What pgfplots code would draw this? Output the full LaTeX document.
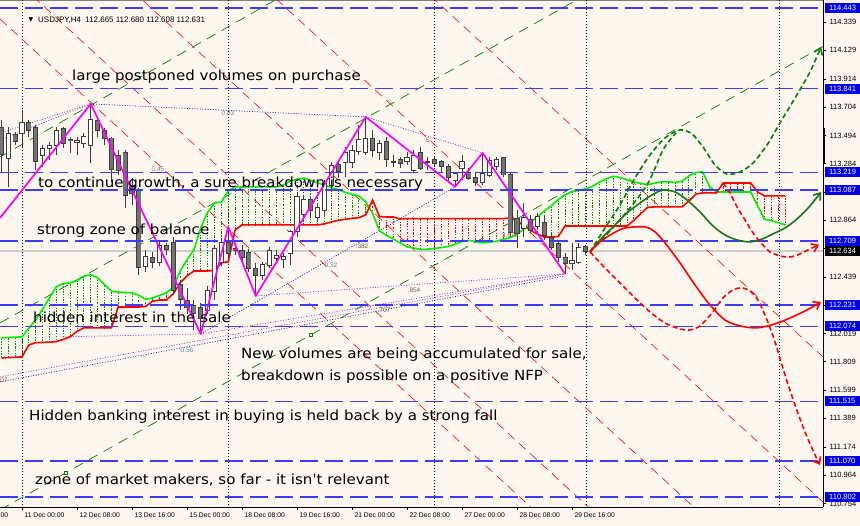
\documentclass[border=0pt]{standalone}
\usepackage{pgfplots}
\pgfplotsset{compat=1.18}
\usepackage{pgfplotstable}
\usetikzlibrary{arrows.meta}
\usepackage{fontspec}
\setmainfont{Liberation Sans}
\newfontfamily\annot[FakeStretch=1.08]{DejaVu Sans}
\newfontfamily\dejavu{DejaVu Sans}

\definecolor{bgc}{RGB}{253,247,240}
\definecolor{lvl}{RGB}{60,60,255}
\definecolor{boxb}{RGB}{0,0,235}
\definecolor{cgreen}{RGB}{0,240,0}
\definecolor{cred}{RGB}{255,0,0}
\definecolor{hatchg}{RGB}{0,140,0}
\definecolor{dgreen}{RGB}{0,128,0}
\definecolor{fgreen}{RGB}{25,120,25}
\definecolor{magz}{RGB}{255,0,255}
\definecolor{purp}{RGB}{153,50,204}
\definecolor{navyd}{RGB}{30,30,170}
\definecolor{candle}{RGB}{60,60,60}
\definecolor{bearf}{RGB}{115,115,115}
\definecolor{fibb}{RGB}{100,130,175}
\definecolor{fibd}{RGB}{110,95,70}
\definecolor{bidl}{RGB}{205,205,205}

\pgfplotstableread{
x o h l c
8.25 113.327 113.557 113.111 113.513
22 113.513 113.684 113.401 113.595
42.625 113.349 113.423 113.260 113.401
49.5 113.401 113.446 113.312 113.423
56.375 113.423 113.557 113.349 113.535
77 113.446 113.483 113.349 113.461
83.875 113.438 113.513 113.401 113.483
90.75 113.423 113.729 113.289 113.610
145.75 112.515 112.642 112.478 112.589
159.5 112.552 112.716 112.522 112.679
207.625 112.195 112.373 112.165 112.344
214.5 112.329 112.679 112.269 112.656
221.375 112.545 112.731 112.522 112.694
262.625 112.455 112.552 112.418 112.530
269.5 112.530 112.664 112.507 112.642
276.375 112.582 112.642 112.552 112.604
283.25 112.567 112.619 112.507 112.589
290.125 112.619 112.790 112.530 112.776
297 112.776 113.073 112.738 113.036
303.875 112.902 113.051 112.865 113.014
317.625 112.880 112.977 112.850 112.954
324.5 112.939 113.163 112.902 113.140
331.375 113.126 113.297 113.073 113.274
345.125 113.297 113.408 113.185 113.371
352 113.297 113.423 113.252 113.386
358.875 113.371 113.572 113.349 113.461
365.75 113.371 113.632 113.349 113.475
379.5 113.371 113.461 113.312 113.438
407 113.297 113.371 113.274 113.334
413.875 113.237 113.386 113.222 113.349
455.125 113.163 113.222 113.111 113.215
462 113.252 113.349 113.163 113.297
482.625 113.148 113.364 113.126 113.215
489.5 113.200 113.334 113.185 113.312
496.375 113.260 113.334 113.237 113.312
523.875 112.805 112.991 112.738 112.880
537.625 112.813 112.917 112.790 112.887
572 112.545 112.694 112.493 112.567
578.875 112.552 112.694 112.537 112.664
}\bull

\pgfplotstableread{
x o h l c
1.375 113.550 113.610 113.215 113.349
15.125 113.498 113.520 113.423 113.446
28.875 113.595 113.610 113.483 113.535
35.75 113.550 113.572 113.237 113.297
63.25 113.550 113.557 113.401 113.438
70.125 113.461 113.483 113.364 113.453
97.625 113.610 113.624 113.483 113.535
104.5 113.535 113.550 113.423 113.475
111.375 113.475 113.483 113.148 113.237
118.25 113.349 113.386 113.200 113.237
125.125 113.371 113.386 112.954 113.051
132 113.126 113.178 112.977 113.066
138.875 113.088 113.103 112.455 112.515
152.625 112.589 112.627 112.507 112.552
166.375 112.679 112.694 112.604 112.649
173.25 112.701 112.738 112.306 112.344
180.125 112.381 112.418 112.195 112.269
187 112.269 112.359 112.165 112.210
193.875 112.232 112.269 112.046 112.172
200.75 112.217 112.247 112.016 112.135
228.25 112.694 112.813 112.582 112.619
235.125 112.656 112.694 112.604 112.642
242 112.642 112.679 112.552 112.589
248.875 112.627 112.649 112.478 112.507
255.75 112.507 112.545 112.299 112.455
310.75 113.014 113.036 112.880 112.939
338.25 113.274 113.312 113.178 113.222
372.625 113.475 113.535 113.334 113.386
386.375 113.446 113.483 113.260 113.312
393.25 113.304 113.349 113.260 113.297
400.125 113.312 113.334 113.252 113.289
420.75 113.371 113.408 113.237 113.252
427.625 113.304 113.334 113.237 113.297
434.5 113.312 113.334 113.260 113.289
441.375 113.297 113.312 113.222 113.260
448.25 113.260 113.282 113.140 113.178
468.875 113.222 113.252 113.163 113.178
475.75 113.185 113.215 113.118 113.148
503.25 113.327 113.334 113.185 113.200
510.125 113.200 113.215 112.738 112.768
517 112.880 112.939 112.656 112.768
530.75 112.865 112.902 112.768 112.790
544.5 112.850 112.902 112.716 112.753
551.375 112.738 112.768 112.642 112.664
558.25 112.694 112.716 112.552 112.589
565.125 112.589 112.619 112.463 112.545
585.75 112.665 112.680 112.608 112.631
}\bear

% Ichimoku cloud, one row per bar: a = Senkou Span A (green), b = Senkou Span B (red)
\pgfplotstableread{
x a b
1.375 111.987 111.837
8.25 111.989 111.840
15.125 111.992 111.842
22 111.994 111.845
28.875 112.058 111.934
35.75 112.122 111.951
42.625 112.200 111.953
49.5 112.284 111.955
56.375 112.368 111.958
63.25 112.392 111.976
70.125 112.396 111.994
77 112.411 112.036
83.875 112.447 112.061
90.75 112.457 112.061
97.625 112.434 112.061
104.5 112.385 112.061
111.375 112.334 112.061
118.25 112.327 112.217
125.125 112.325 112.217
132 112.322 112.217
138.875 112.304 112.217
145.75 112.274 112.221
152.625 112.284 112.260
159.5 112.303 112.269
166.375 112.323 112.269
173.25 112.363 112.315
180.125 112.483 112.397
187 112.568 112.448
193.875 112.642 112.485
200.75 112.805 112.485
207.625 112.921 112.485
214.5 112.992 112.490
221.375 112.998 112.545
228.25 113.080 112.554
235.125 113.111 112.790
242 113.111 112.828
248.875 113.111 112.828
255.75 113.111 112.828
262.625 113.111 112.828
269.5 113.111 112.828
276.375 113.111 112.828
283.25 113.124 112.828
290.125 113.152 112.828
297 113.169 112.828
303.875 113.176 112.828
310.75 113.159 112.828
317.625 113.141 112.828
324.5 113.124 112.836
331.375 113.107 112.849
338.25 113.089 112.862
345.125 113.071 112.870
352 113.056 112.876
358.875 113.042 112.882
365.75 113.001 112.902
372.625 112.913 113.013
379.5 112.785 112.890
386.375 112.750 112.887
393.25 112.723 112.887
400.125 112.694 112.872
407 112.664 112.875
413.875 112.655 112.875
420.75 112.645 112.875
427.625 112.646 112.875
434.5 112.653 112.875
441.375 112.659 112.875
448.25 112.667 112.875
455.125 112.685 112.875
462 112.703 112.875
468.875 112.713 112.875
475.75 112.704 112.875
482.625 112.694 112.875
489.5 112.699 112.875
496.375 112.707 112.875
503.25 112.720 112.875
510.125 112.733 112.879
517 112.759 112.859
523.875 112.797 112.823
530.75 112.848 112.788
537.625 112.892 112.758
544.5 112.932 112.738
551.375 112.971 112.738
558.25 113.017 112.741
565.125 113.052 112.820
572 113.076 112.820
578.875 113.086 112.820
585.75 113.097 112.820
592.625 113.115 112.820
599.5 113.146 112.820
606.375 113.171 112.820
613.25 113.190 112.820
620.125 113.181 112.820
627 113.164 112.820
633.875 113.147 112.862
640.75 113.137 112.911
647.625 113.127 112.959
654.5 113.138 112.962
661.375 113.148 112.962
668.25 113.148 112.962
675.125 113.144 112.962
682 113.152 112.962
688.875 113.193 113.006
695.75 113.217 113.057
702.625 113.223 113.066
709.5 113.115 113.066
716.375 113.073 113.066
723.25 113.073 113.140
730.125 113.073 113.140
737 113.073 113.140
743.875 113.073 113.140
750.75 113.073 113.140
757.625 112.970 113.073
764.5 112.870 113.044
771.375 112.859 113.044
778.25 112.844 113.044
785.125 112.828 113.044
}\cloud

\newcommand\ann[3]{\node[anchor=base west, inner sep=0pt, font=\annot\fontsize{14}{16}\selectfont] at (axis cs:#1,#2) {#3};}
\newcommand\fib[4]{\node[inner sep=0pt, text=#4, font=\fontsize{6.5}{7}\selectfont] at (axis cs:#1,#2) {#3};}
\pgfplotsset{errbar/.style={forget plot, draw=none, mark=none, error bars/.cd, y dir=both, y explicit, error mark=none, error bar style={#1}}}

\begin{document}
\begin{tikzpicture}
\fill[bgc] (0,0) rectangle (860bp,526bp);
\begin{axis}[
  at={(0,19bp)}, anchor=south west,
  scale only axis, width=823bp, height=507bp,
  xmin=0, xmax=823, ymin=110.7275, ymax=114.5026,
  axis x line*=bottom, axis y line*=right,
  axis line style={black, line width=0.8bp},
  clip mode=individual,
  xtick={22,77,132,187,242,297,352,407,462,517,572},
  xticklabels={11 Dec 00:00,12 Dec 08:00,13 Dec 16:00,15 Dec 00:00,18 Dec 08:00,19 Dec 16:00,21 Dec 00:00,22 Dec 08:00,27 Dec 00:00,28 Dec 08:00,29 Dec 16:00},
  xticklabel style={anchor=north west, xshift=-1bp, yshift=1bp, font=\fontsize{6.8}{8}\selectfont},
  ytick={110.754,110.964,111.174,111.389,111.599,111.809,112.019,112.439,112.864,113.284,113.494,113.704,113.914,114.129,114.339},
  yticklabel={\pgfmathprintnumber[fixed,fixed zerofill,precision=3,1000 sep={},assume math mode=true]{\tick}},
  yticklabel style={font=\fontsize{7.6}{9}\selectfont},
  extra y ticks={113.074,112.654,112.229},
  extra y tick labels={},
  tick align=outside, major tick length=3bp,
  tick style={black, line width=0.6bp},
  /pgf/number format/assume math mode=true,
]
% top frame
\addplot[forget plot, gray, line width=1.6bp] coordinates {(0,114.5026) (823,114.5026)};
% period separators
\pgfplotsinvokeforeach{22,228,434,586,779}{
  \addplot[forget plot, black, line width=0.8bp, dash pattern=on 1bp off 2bp] coordinates {(#1,110.7) (#1,114.6)};
}
% bid line
\addplot[forget plot, bidl, line width=1.2bp] coordinates {(0,112.634) (823,112.634)};
% red descending channel lines
\addplot[forget plot, cred, line width=0.6bp, dash pattern=on 9bp off 6bp] coordinates {(0,114.362) (823,108.725)};
\addplot[forget plot, cred, line width=0.6bp, dash pattern=on 9bp off 6bp] coordinates {(0,114.756) (823,109.120)};
\addplot[forget plot, cred, line width=0.6bp, dash pattern=on 9bp off 6bp] coordinates {(0,115.478) (823,109.842)};
\addplot[forget plot, cred, line width=0.6bp, dash pattern=on 9bp off 6bp] coordinates {(0,116.402) (823,110.765)};
\addplot[forget plot, cred, line width=0.6bp, dash pattern=on 9bp off 6bp] coordinates {(0,117.481) (823,111.845)};
% green ascending channel
\addplot[forget plot, dgreen, line width=0.7bp, dash pattern=on 10bp off 7bp] coordinates {(0,113.334) (400,115.032)};
\addplot[forget plot, dgreen, line width=0.7bp, dash pattern=on 10bp off 7bp] coordinates {(0,112.098) (823,115.530)};
\addplot[forget plot, dgreen, line width=0.7bp, dash pattern=on 10bp off 7bp] coordinates {(0,110.706) (823,114.157)};
\addplot[forget plot, only marks, dgreen, mark=square*, mark size=1.6bp, mark options={fill=white, solid}] coordinates {(66,110.983) (310.5,112.008)};
% fan / fibo dotted lines
\addplot[forget plot, purp, line width=0.7bp, dash pattern=on 1bp off 1.6bp] coordinates {(0,113.513) (90.75,113.729)};
\addplot[forget plot, purp, line width=0.7bp, dash pattern=on 1bp off 1.6bp] coordinates {(0,113.461) (90.75,113.729)};
\addplot[forget plot, navyd, line width=0.7bp, dash pattern=on 1bp off 1.6bp] coordinates {(90.75,113.729) (365.75,113.632)};
\addplot[forget plot, purp, line width=0.7bp, dash pattern=on 1bp off 1.6bp] coordinates {(365.75,113.632) (482.625,113.364)};
\addplot[forget plot, purp, line width=0.7bp, dash pattern=on 1bp off 1.6bp] coordinates {(0,111.696) (565,112.463)};
\addplot[forget plot, navyd, line width=0.7bp, dash pattern=on 1bp off 1.6bp] coordinates {(0,111.659) (565,112.448)};
\addplot[forget plot, purp, line width=0.7bp, dash pattern=on 1bp off 1.6bp] coordinates {(60,111.994) (200.75,112.016)};
\addplot[forget plot, purp, line width=0.7bp, dash pattern=on 1bp off 1.6bp] coordinates {(200.75,112.016) (565,112.463)};
\addplot[forget plot, purp, line width=0.7bp, dash pattern=on 1bp off 1.6bp] coordinates {(255.75,112.299) (565,112.463)};
\addplot[forget plot, navyd, line width=0.7bp, dash pattern=on 1bp off 1.6bp] coordinates {(200.75,112.016) (455.125,113.111)};
% ichimoku cloud hatching (one dotted stroke per bar)
\addplot[errbar={draw=hatchg, line width=0.8bp, dash pattern=on 1.3bp off 1.4bp}]
  table[x=x, y expr={(\thisrow{a}+\thisrow{b})/2}, y error expr={max(\thisrow{a}-\thisrow{b},0)/2}] {\cloud};
\addplot[errbar={draw=cred, line width=0.8bp, dash pattern=on 1.3bp off 1.4bp}]
  table[x=x, y expr={(\thisrow{a}+\thisrow{b})/2}, y error expr={max(\thisrow{b}-\thisrow{a},0)/2}] {\cloud};
\addplot[forget plot, cgreen, line width=1.6bp] table[x=x,y=a] {\cloud};
\addplot[forget plot, cred, line width=1.6bp] table[x=x,y=b] {\cloud};
% candles: wicks
\addplot[errbar={draw=candle, solid, line width=0.9bp}]
  table[x=x, y expr={(\thisrow{h}+\thisrow{l})/2}, y error expr={(\thisrow{h}-\thisrow{l})/2}] {\bull};
\addplot[errbar={draw=candle, solid, line width=0.9bp}]
  table[x=x, y expr={(\thisrow{h}+\thisrow{l})/2}, y error expr={(\thisrow{h}-\thisrow{l})/2}] {\bear};
% candle bodies
\addplot[errbar={draw=candle, solid, line width=5.2bp}]
  table[x=x, y expr={(\thisrow{o}+\thisrow{c})/2}, y error expr={abs(\thisrow{c}-\thisrow{o})/2+0.0037}] {\bull};
\addplot[errbar={draw=white, solid, line width=3.4bp}]
  table[x=x, y expr={(\thisrow{o}+\thisrow{c})/2}, y error expr={max(abs(\thisrow{c}-\thisrow{o})/2-0.0037,0)}] {\bull};
\addplot[errbar={draw=candle, solid, line width=5.2bp}]
  table[x=x, y expr={(\thisrow{o}+\thisrow{c})/2}, y error expr={abs(\thisrow{c}-\thisrow{o})/2+0.0037}] {\bear};
\addplot[errbar={draw=bearf, solid, line width=3.4bp}]
  table[x=x, y expr={(\thisrow{o}+\thisrow{c})/2}, y error expr={max(abs(\thisrow{c}-\thisrow{o})/2-0.0037,0)}] {\bear};
% zigzag
\addplot[forget plot, magz, line width=1.7bp, line join=round] coordinates {
  (0,112.880) (90.75,113.729) (200.75,112.016) (228.25,112.813) (255.75,112.299)
  (365.75,113.632) (455.125,113.111) (482.625,113.364) (565.125,112.463)};
% horizontal levels
\pgfplotsinvokeforeach{114.443,113.841,113.219,113.087,112.709,112.231,112.074,111.515,111.070,110.802}{
  \addplot[forget plot, lvl, line width=1.3bp, dash pattern=on 18bp off 7bp] coordinates {(0,#1) (823,#1)};
}
% forecast curves
\addplot[forget plot, dgreen, line width=1.6bp, dash pattern=on 5bp off 3bp, smooth] coordinates {
  (590,112.627) (620,112.865) (647,113.126) (663,113.386) (676,113.513)};
\addplot[forget plot, dgreen, line width=1.6bp, dash pattern=on 5bp off 3bp, smooth, -{Straight Barb[length=6bp,width=9bp]}] coordinates {
  (590,112.627) (605,112.805) (620,112.977) (635,113.178) (650,113.349) (665,113.475) (680,113.535)
  (692,113.505) (703,113.408) (715,113.274) (727,113.207) (740,113.222) (753,113.289) (767,113.423)
  (780,113.587) (795,113.773) (810,113.967) (821,114.153)};
\addplot[forget plot, fgreen, line width=1.6bp, smooth, -{Straight Barb[length=6bp,width=9bp]}] coordinates {
  (590,112.627) (600,112.716) (613,112.813) (627,112.917) (640,112.991) (652,113.051) (663,113.088)
  (675,113.073) (687,113.014) (700,112.924) (713,112.820) (725,112.753) (737,112.716) (750,112.701)
  (762,112.723) (773,112.761) (785,112.805) (797,112.872) (810,112.969) (821,113.073)};
\addplot[forget plot, cred, line width=1.6bp, smooth, -{Straight Barb[length=6bp,width=9bp]}] coordinates {
  (590,112.627) (600,112.701) (612,112.761) (625,112.805) (645,112.813) (655,112.776) (665,112.694)
  (680,112.545) (695,112.381) (710,112.232) (725,112.120) (740,112.076) (757,112.061) (775,112.091)
  (790,112.135) (805,112.187) (821,112.254)};
\addplot[forget plot, cred, line width=1.6bp, dash pattern=on 5bp off 3bp, smooth, -{Straight Barb[length=6bp,width=9bp]}] coordinates {
  (590,112.627) (605,112.507) (620,112.396) (635,112.284) (650,112.180) (665,112.098) (680,112.053)
  (690,112.046) (700,112.076) (712,112.172) (723,112.284) (733,112.344) (742,112.359) (750,112.336)
  (758,112.269) (767,112.120) (775,111.957) (785,111.711) (795,111.487) (805,111.286) (815,111.115) (820,111.040)};
\addplot[forget plot, cred, line width=1.6bp, dash pattern=on 5bp off 3bp, smooth, -{Straight Barb[length=6bp,width=9bp]}] coordinates {
  (723,113.140) (730,113.066) (737,112.962) (745,112.865) (753,112.768) (762,112.686) (770,112.627)
  (780,112.597) (790,112.589) (800,112.612) (810,112.649) (819,112.679)};
% shift marker on price scale
\draw[black, line width=2bp] (axis cs:823.5,113.550) -- (axis cs:823.5,113.289);
% fibo labels
\fib{228}{113.662}{0.83}{fibb}
\fib{158}{113.245}{0.45}{fibb}
\fib{331}{112.530}{0.32}{fibb}
\fib{187}{111.897}{0.56}{fibb}
\fib{4}{111.674}{07}{fibd}
\fib{362}{112.671}{.382}{fibd}
\fib{414}{112.344}{.854}{fibd}
\fib{384}{112.195}{.707}{fibd}
\fib{510}{112.753}{3.679}{fibd}
\fib{428}{113.461}{5}{fibd}
% annotations
\ann{72}{113.900}{large postponed volumes on purchase}
\ann{38}{113.103}{to continue growth, a sure breakdown is necessary}
\ann{37}{112.753}{strong zone of balance}
\ann{33}{112.098}{hidden interest in the sale}
\ann{241}{111.830}{New volumes are being accumulated for sale,}
\ann{241}{111.666}{breakdown is possible on a positive NFP}
\ann{29}{111.368}{Hidden banking interest in buying is held back by a strong fall}
\ann{35}{110.892}{zone of market makers, so far - it isn't relevant}
% header
\node[anchor=base west, inner sep=0pt, font=\fontsize{8}{9}\selectfont] at (axis cs:38,114.332) {USDJPY,H4\ \ 112.665 112.680 112.608 112.631};
\node[inner sep=0pt, font=\dejavu\fontsize{6}{6}\selectfont] at (axis cs:31,114.354) {▼};
% tail of the first time label
\node[anchor=north west, inner sep=0.333em, xshift=-1bp, yshift=-2bp, font=\fontsize{6.8}{8}\selectfont] at (axis cs:-2,110.7275) {00};
% anchors for price boxes
\coordinate (R1) at (axis cs:823,114.443);
\coordinate (R2) at (axis cs:823,113.841);
\coordinate (R3) at (axis cs:823,113.219);
\coordinate (R4) at (axis cs:823,113.087);
\coordinate (R5) at (axis cs:823,112.709);
\coordinate (R6) at (axis cs:823,112.231);
\coordinate (R7) at (axis cs:823,112.074);
\coordinate (R8) at (axis cs:823,111.515);
\coordinate (R9) at (axis cs:823,111.070);
\coordinate (R10) at (axis cs:823,110.802);
\coordinate (RC) at (axis cs:823,112.634);
\end{axis}
\foreach \n/\t in {R1/114.443,R2/113.841,R3/113.219,R4/113.087,R5/112.709,R6/112.231,R7/112.074,R8/111.515,R9/111.070,R10/110.802}{
  \fill[boxb] ([xshift=2bp,yshift=-5bp]\n) rectangle ([xshift=40bp,yshift=5bp]\n);
  \node[anchor=west, inner sep=0pt, text=white, font=\fontsize{7.6}{9}\selectfont] at ([xshift=6bp]\n) {\t};
}
\fill[black] ([xshift=2bp,yshift=-5bp]RC) rectangle ([xshift=40bp,yshift=5bp]RC);
\node[anchor=west, inner sep=0pt, text=white, font=\fontsize{7.6}{9}\selectfont] at ([xshift=6bp]RC) {112.634};
\pgfresetboundingbox
\path[use as bounding box] (0,0) rectangle (860bp,526bp);
\end{tikzpicture}
\end{document}
